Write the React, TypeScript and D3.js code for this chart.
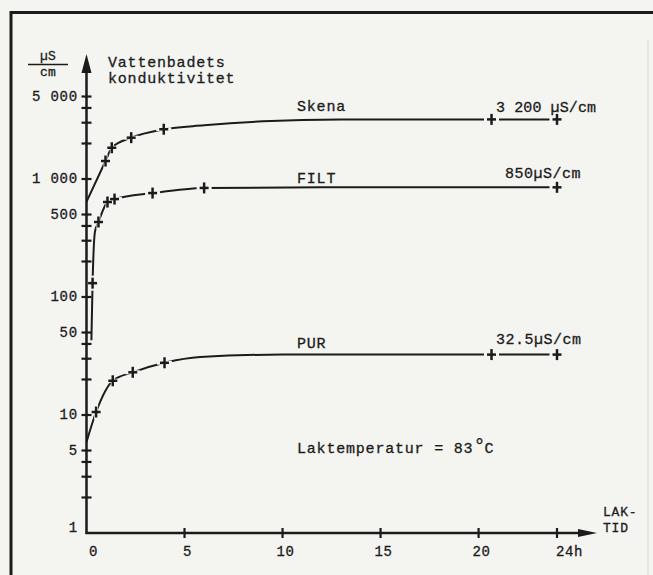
import React from 'react';
import * as d3 from 'd3';

const W = 653;
const H = 575;

// Axis ticks / labels
const hourTicks = [0, 5, 10, 15, 20, 24];
const hourLabels = ['0', '5', '10', '15', '20', '24h'];
const yLabelValues = [1, 5, 10, 50, 100, 500, 1000, 5000];
const yLabelTexts = ['1', '5', '10', '50', '100', '500', '1 000', '5 000'];
const yTickValues = [2, 3, 4, 5, 10, 20, 30, 40, 50, 100, 200, 300, 400, 500, 1000, 2000, 3000, 4000, 5000];

// Skena
const skenaT = [0, 0.97, 1.29, 2.28, 3.94, 6, 9, 13, 20.66, 24];
const skenaV = [642, 1420, 1840, 2240, 2640, 2850, 3080, 3200, 3200, 3200];
const skenaMarkT = [0.97, 1.29, 2.28, 3.94, 20.66, 24];
const skenaMarkV = [1420, 1840, 2240, 2640, 3200, 3200];

// FILT
const filtT = [0.25, 0.31, 0.43, 0.61, 1.07, 1.43, 3.37, 6.0, 12, 24];
const filtV = [43, 131, 356, 432, 638, 676, 760, 840, 850, 850];
const filtMarkT = [0.31, 0.61, 1.07, 1.43, 3.37, 6.0, 24];
const filtMarkV = [131, 432, 638, 676, 760, 840, 850];

// PUR
const purT = [0, 0.49, 1.34, 2.36, 3.98, 5.8, 10, 20.66, 24];
const purV = [5.9, 10.6, 19.5, 23, 27.7, 31, 32.5, 32.5, 32.5];
const purMarkT = [0.49, 1.34, 2.36, 3.98, 20.66, 24];
const purMarkV = [10.6, 19.5, 23, 27.7, 32.5, 32.5];

const BG = '#f4f4f1';
const INK = '#1b1b1b';
const FONT = '"Liberation Mono", "DejaVu Sans Mono", monospace';

export default function App() {
  const x = d3.scaleLinear().domain([0, 24]).range([86.5, 557]);
  const y = d3.scaleLog().domain([1, 10000]).range([533, 61]);

  const line = d3
    .line<[number, number]>()
    .x((d) => x(d[0]))
    .y((d) => y(d[1]))
    .curve(d3.curveMonotoneX);

  const series = [
    { t: skenaT, v: skenaV, mt: skenaMarkT, mv: skenaMarkV },
    { t: filtT, v: filtV, mt: filtMarkT, mv: filtMarkV },
    { t: purT, v: purV, mt: purMarkT, mv: purMarkV },
  ];

  const x0 = x(0);
  const y0 = y(1);

  const txt = {
    fontFamily: FONT,
    fontSize: 15,
    letterSpacing: 0.8,
    fill: INK,
    stroke: INK,
    strokeWidth: 0.3,
  } as const;

  return (
    <svg width={W} height={H} style={{ position: 'absolute', left: 0, top: 0 }}>
      <rect x={0} y={0} width={W} height={H} fill={BG} />
      {/* frame */}
      <line x1={10} y1={12.5} x2={W} y2={12.5} stroke={INK} strokeWidth={3} />
      <line x1={11} y1={11} x2={11} y2={H} stroke={INK} strokeWidth={3} />
      <line x1={648} y1={40} x2={648} y2={H} stroke="#d8d8d6" strokeWidth={1} />

      {/* curves */}
      {series.map((s, i) => (
        <path
          key={'c' + i}
          d={line(s.t.map((t, j) => [t, s.v[j]] as [number, number])) || ''}
          fill="none"
          stroke={INK}
          strokeWidth={2}
        />
      ))}
      {/* marker halos (gaps in the line) */}
      {series.map((s, i) =>
        s.mt.map((t, j) => {
          const cx = x(t);
          const cy = y(s.mv[j]);
          return (
            <g key={'h' + i + '-' + j} stroke={BG} strokeWidth={4}>
              <line x1={cx - 7.5} y1={cy} x2={cx + 7.5} y2={cy} />
              <line x1={cx} y1={cy - 7.5} x2={cx} y2={cy + 7.5} />
            </g>
          );
        })
      )}
      {series.map((s, i) =>
        s.mt.map((t, j) => {
          const cx = x(t);
          const cy = y(s.mv[j]);
          return (
            <g key={'m' + i + '-' + j} stroke={INK} strokeWidth={2.5}>
              <line x1={cx - 4.5} y1={cy} x2={cx + 4.5} y2={cy} />
              <line x1={cx} y1={cy - 5.5} x2={cx} y2={cy + 5.5} />
            </g>
          );
        })
      )}

      {/* y axis */}
      <line x1={x0} y1={y0 + 1} x2={x0} y2={70} stroke={INK} strokeWidth={2.5} />
      <polygon points={`${x0},54 ${x0 - 5},73 ${x0 + 5},73`} fill={INK} />
      {yTickValues.map((v) => (
        <line key={'yt' + v} x1={x0 - 5} y1={y(v)} x2={x0 + 5} y2={y(v)} stroke={INK} strokeWidth={2.2} />
      ))}
      {yLabelValues.map((v, i) => (
        <text
          key={'yl' + v}
          x={78}
          y={v === 1 ? y(v) - 5 : y(v)}
          textAnchor="end"
          dominantBaseline="central"
          {...txt}
          fontSize={14}
          letterSpacing={0.8}
        >
          {yLabelTexts[i]}
        </text>
      ))}

      {/* x axis */}
      <line x1={x0 - 1} y1={y0} x2={582} y2={y0} stroke={INK} strokeWidth={2.5} />
      <polygon points={`597,${y0} 578,${y0 - 4} 578,${y0 + 4}`} fill={INK} />
      {hourTicks
        .filter((t) => t > 0)
        .map((t) => (
          <line key={'xt' + t} x1={x(t)} y1={y0 - 5} x2={x(t)} y2={y0 + 5} stroke={INK} strokeWidth={2.2} />
        ))}
      {hourTicks.map((t, i) => (
        <text
          key={'xl' + t}
          x={t === 0 ? x(t) + 7 : t === 24 ? x(t) - 1 : x(t) + 3}
          y={556}
          textAnchor={t === 24 ? 'start' : 'middle'}
          {...txt}
          fontSize={14}
          letterSpacing={0.6}
        >
          {hourLabels[i]}
        </text>
      ))}

      {/* axis titles */}
      <text x={48} y={60} textAnchor="middle" {...txt} fontSize={13} letterSpacing={0.3}>µS</text>
      <line x1={28} y1={64.5} x2={68} y2={64.5} stroke={INK} strokeWidth={1.3} />
      <text x={48} y={76} textAnchor="middle" {...txt} fontSize={13} letterSpacing={0.3}>cm</text>
      <text x={108} y={67} {...txt}>Vattenbadets</text>
      <text x={108} y={83} {...txt}>konduktivitet</text>
      <text x={603} y={516} {...txt} fontSize={13} letterSpacing={0.8}>LAK-</text>
      <text x={603} y={532} {...txt} fontSize={13} letterSpacing={0.8}>TID</text>

      {/* series labels */}
      <text x={297} y={111} {...txt}>Skena</text>
      <text x={496} y={112} {...txt} letterSpacing={0.1}>3 200 µS/cm</text>
      <text x={297} y={183} {...txt}>FILT</text>
      <text x={505} y={178} {...txt} letterSpacing={0.5}>850µS/cm</text>
      <text x={297} y={348} {...txt}>PUR</text>
      <text x={496} y={344} {...txt} letterSpacing={0.5}>32.5µS/cm</text>

      <text x={297} y={453} {...txt}>
        Laktemperatur = 83
        <tspan dy={-1} fontSize={20} letterSpacing={-1}>°</tspan>
        <tspan dy={1}>C</tspan>
      </text>
    </svg>
  );
}
